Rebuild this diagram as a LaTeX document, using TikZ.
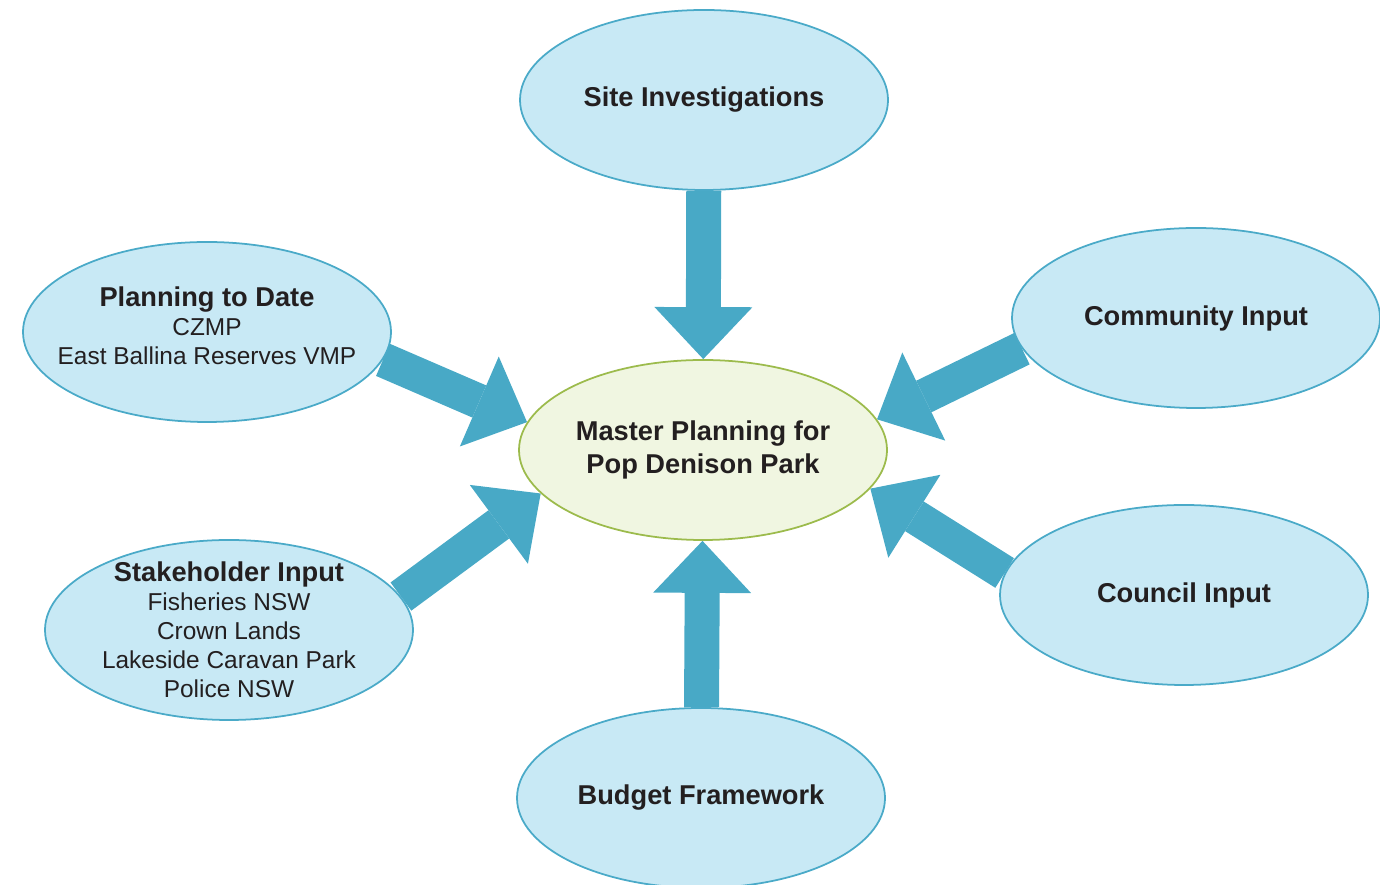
\documentclass[tikz,border=0pt]{standalone}
\usepackage{fontspec}
\setmainfont{Liberation Sans}
\usetikzlibrary{arrows.meta,shapes.geometric,backgrounds}

\definecolor{bubblefill}{HTML}{C8E9F5}
\definecolor{bubbleline}{HTML}{4AAAC8}
\definecolor{arrowblue}{HTML}{48A9C6}
\definecolor{corefill}{HTML}{F0F6E1}
\definecolor{coreline}{HTML}{9CBB4C}
\definecolor{textdark}{HTML}{231F20}

\newcommand{\bubblehead}[1]{{\fontsize{15.5}{18}\selectfont\bfseries #1}}

\begin{document}
\begin{tikzpicture}[
  bubble/.style={ellipse, draw=bubbleline, fill=bubblefill, line width=1pt,
    minimum width=7.36cm, minimum height=3.6cm, inner xsep=-15pt, inner ysep=-8pt,
    align=center, text=textdark, font=\fontsize{13.9}{16.5}\selectfont},
  core/.style={bubble, draw=coreline, fill=corefill, font=\fontsize{13.9}{18.5}\selectfont},
  feed/.style={draw=arrowblue, line width=0.7cm,
    -{Triangle[width=1.96cm, length=1.04cm, line width=0pt]}}
]

\def\width{27.6}
\def\height{17.7}

\path [use as bounding box] (0,0) rectangle (\width,\height);

% BUBBLES
\node [bubble] (site) at (14.08,15.7) {\bubblehead{Site Investigations}};
\node [bubble] (plan) at (4.14,11.06) {\bubblehead{Planning to Date}\\CZMP\\East Ballina Reserves VMP\\[-9pt]};
\node [bubble] (community) at (23.92,11.34) {\bubblehead{Community Input}};
\node [core] (master) at (14.06,8.7) {\bubblehead{Master Planning for}\\\bubblehead{Pop Denison Park}};
\node [bubble] (stake) at (4.58,5.1) {\bubblehead{Stakeholder Input}\\Fisheries NSW\\Crown Lands\\Lakeside Caravan Park\\Police NSW};
\node [bubble] (council) at (23.68,5.8) {\bubblehead{Council Input}};
\node [bubble] (budget) at (14.02,1.74) {\bubblehead{Budget Framework}};

% ARROWS
\begin{pgfonlayer}{background}
\draw [feed] (site) -- (master);
\draw [feed] (plan.-9) -- (master.171);
\draw [feed] (community.190) -- (master.10);
\draw [feed] (stake.11) -- (master.195);
\draw [feed] (council.173) -- (master.-13);
\draw [feed] (budget) -- (master);
\end{pgfonlayer}

\end{tikzpicture}
\end{document}
